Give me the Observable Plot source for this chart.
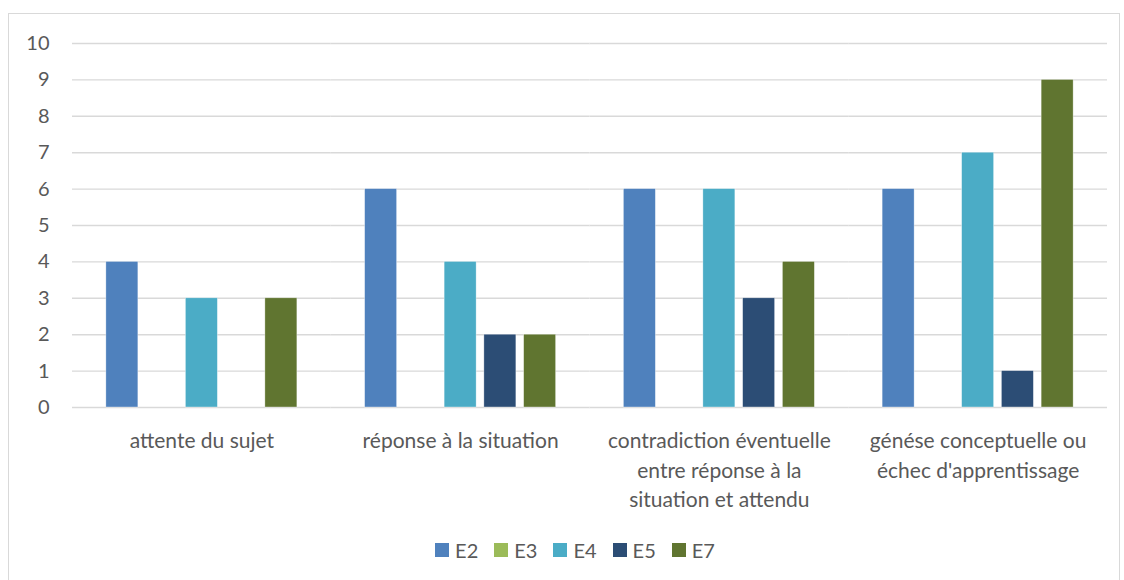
<!DOCTYPE html>
<html>
<head>
<meta charset="utf-8">
<script src="https://cdn.jsdelivr.net/npm/d3@7"></script>
<script src="https://cdn.jsdelivr.net/npm/@observablehq/plot@0.6"></script>
<style>
  html, body { margin: 0; padding: 0; background: #fff; }
  #wrap { position: relative; width: 1124px; height: 580px; overflow: hidden; font-family: Lato, sans-serif; }
  #frame { position: absolute; left: 8px; top: 13px; width: 1112px; height: 580px; border: 1px solid #d9d9d9; box-sizing: border-box; }
  #chart { position: absolute; left: 0; top: 0; }
  #legend { position: absolute; left: 0; width: 1150px; top: 538px; display: flex; justify-content: center; gap: 16px; font-size: 20px; color: #595959; }
  .item { display: flex; align-items: center; gap: 6px; }
  .sw { width: 14px; height: 14px; display: inline-block; }
</style>
</head>
<body>
<div id="wrap">
  <div id="frame"></div>
  <div id="chart"></div>
  <div id="legend"></div>
</div>
<script>
const categories = [
  "attente du sujet",
  "réponse à la situation",
  "contradiction éventuelle\nentre réponse à la\nsituation et attendu",
  "génése conceptuelle ou\néchec d'apprentissage"
];
const series = ["E2", "E3", "E4", "E5", "E7"];
const E2 = [4, 6, 6, 6];
const E3 = [0, 0, 0, 0];
const E4 = [3, 4, 6, 7];
const E5 = [0, 2, 3, 1];
const E7 = [3, 2, 4, 9];
const colors = ["#4f81bd", "#9bbb59", "#4bacc6", "#2c4d75", "#607530"];
const yTicks = [0, 1, 2, 3, 4, 5, 6, 7, 8, 9, 10];

const valuesBySeries = {E2, E3, E4, E5, E7};
const data = [];
categories.forEach((c, i) => {
  series.forEach(s => data.push({cat: c, series: s, value: valuesBySeries[s][i]}));
});

const chart = Plot.plot({
  width: 1124,
  height: 520,
  marginLeft: 72,
  marginRight: 17,
  marginTop: 43,
  marginBottom: 113,
  style: {fontFamily: "Lato, sans-serif", fontSize: "20px", color: "#595959", background: "transparent"},
  fx: {domain: categories, padding: 0, round: false, label: null},
  x: {domain: series, paddingInner: 0.195, paddingOuter: 0.852, round: false, axis: null},
  y: {domain: [0, 10], label: null},
  color: {domain: series, range: colors},
  marks: [
    Plot.ruleY(yTicks, {stroke: "#d9d9d9", strokeWidth: 1.4}),
    Plot.barY(data, {fx: "cat", x: "series", y: "value", fill: "series", stroke: "#ffffff", strokeWidth: 0.6, strokeOpacity: 0.6}),
    Plot.axisY(yTicks, {tickSize: 0, tickPadding: 23, fontSize: 20, label: null, fill: "#595959"}),
    Plot.axisFx({anchor: "bottom", tickSize: 0, tickPadding: 20, fontSize: 21, lineHeight: 1.4, label: null, fill: "#595959"})
  ]
});
document.getElementById("chart").appendChild(chart);

const legend = document.getElementById("legend");
series.forEach((s, i) => {
  const item = document.createElement("div");
  item.className = "item";
  const sw = document.createElement("span");
  sw.className = "sw";
  sw.style.background = colors[i];
  const t = document.createElement("span");
  t.textContent = s;
  item.appendChild(sw);
  item.appendChild(t);
  legend.appendChild(item);
});
</script>
</body>
</html>
